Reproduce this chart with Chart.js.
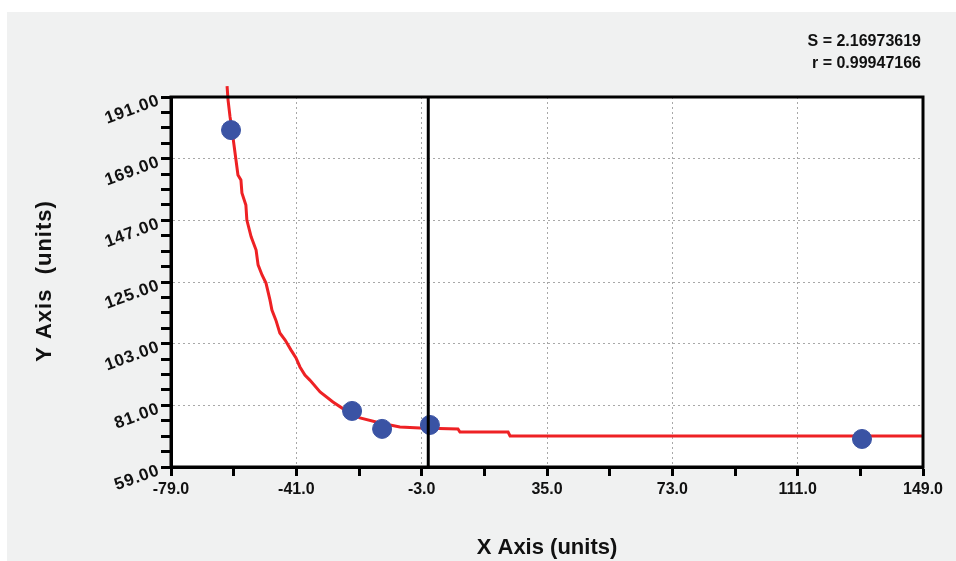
<!DOCTYPE html>
<html>
<head>
<meta charset="utf-8">
<script src="https://cdn.jsdelivr.net/npm/chart.js@4.4.1/dist/chart.umd.min.js"></script>
<style>
  html, body { margin: 0; padding: 0; background: #fff; }
  #wrap { width: 956px; height: 561px; }
</style>
</head>
<body>
<div id="wrap"><canvas id="myChart" width="956" height="561"></canvas></div>
<script>
// measured points
const pointX = [-60.8, -24.1, -15.0, -0.5, 130.5];
const pointY = [179.2, 79.0, 72.6, 74.0, 69.0];

// fitted curve
const curveX = [-62.0, -61.7, -61.1, -60.5, -59.9, -59.3, -58.7, -57.8, -57.5, -56.3, -56.0, -54.7, -53.2,
  -52.6, -51.4, -50.2, -49.0, -48.4, -47.2, -46.0, -44.4, -42.6, -41.1, -39.9, -38.4, -36.9, -33.8, -29.9,
  -26.2, -21.7, -15.6, -9.6, -3.5, 8.0, 8.6, 23.2, 23.8, 149.0];
const curveY = [194.9, 189.9, 183.9, 179.2, 173.9, 168.5, 163.2, 161.4, 156.8, 152.5, 147.1, 141.1, 136.4,
  131.1, 127.5, 124.6, 118.6, 115.0, 111.4, 106.8, 104.3, 100.7, 97.9, 94.7, 91.8, 90.0, 85.8, 82.2,
  79.3, 76.5, 74.7, 73.3, 72.9, 72.6, 71.5, 71.5, 70.1, 70.1];

const xMin = -79, xMax = 149, xStep = 19, xMajor = 38;
const yMin = 59, yMax = 191, yStep = 5.5, yMajor = 22;
const zeroLine = -1;
const statLines = ["S = 2.16973619", "r = 0.99947166"];

const isMajorX = v => Math.abs(((v - xMin) / xMajor) - Math.round((v - xMin) / xMajor)) < 1e-6;
const isMajorY = v => Math.abs(((v - yMin) / yMajor) - Math.round((v - yMin) / yMajor)) < 1e-6;

const FONT = "'Liberation Sans', Arial, sans-serif";

const decor = {
  id: "decor",
  beforeDraw(chart) {
    const c = chart.ctx, a = chart.chartArea;
    c.save();
    c.fillStyle = "#f0f1f1";
    c.fillRect(7, 12, chart.width - 7, chart.height - 12);
    c.fillStyle = "#ffffff";
    c.fillRect(a.left, a.top, a.right - a.left, a.bottom - a.top);
    c.restore();
  },
  afterDatasetsDraw(chart) {
    const c = chart.ctx, a = chart.chartArea;
    const xs = chart.scales.x;
    c.save();
    // vertical reference line
    const zx = xs.getPixelForValue(zeroLine);
    c.strokeStyle = "#000";
    c.lineWidth = 3;
    c.beginPath();
    c.moveTo(zx, a.top);
    c.lineTo(zx, a.bottom);
    c.stroke();
    c.restore();
  },
  afterDraw(chart) {
    const c = chart.ctx, a = chart.chartArea;
    const ys = chart.scales.y;
    c.save();
    c.strokeStyle = "#000";
    c.lineWidth = 3;
    c.strokeRect(a.left, a.top, a.right - a.left, a.bottom - a.top);

    // y tick labels, tilted
    c.fillStyle = "#111";
    c.font = "bold 17px " + FONT;
    c.letterSpacing = "0.8px";
    c.textAlign = "right";
    c.textBaseline = "middle";
    ys.ticks.forEach(t => {
      if (!isMajorY(t.value)) return;
      const py = ys.getPixelForValue(t.value);
      c.save();
      c.translate(a.left - 12, py + 3);
      c.rotate(-20 * Math.PI / 180);
      c.fillText(t.value.toFixed(2), 0, 0);
      c.restore();
    });

    // y title
    c.save();
    c.font = "bold 22px " + FONT;
    c.letterSpacing = "1px";
    c.textAlign = "center";
    c.textBaseline = "middle";
    c.translate(45, 281);
    c.rotate(-Math.PI / 2);
    c.fillText("Y Axis  (units)", 0, 0);
    c.restore();

    // stats
    c.letterSpacing = "0px";
    c.font = "bold 16px " + FONT;
    c.textAlign = "right";
    c.textBaseline = "middle";
    statLines.forEach((s, i) => c.fillText(s, 921, 42 + i * 22));
    c.restore();
  }
};

new Chart(document.getElementById("myChart").getContext("2d"), {
  type: "scatter",
  data: {
    datasets: [
      {
        type: "line",
        data: curveX.map((x, i) => ({ x: x, y: curveY[i] })),
        borderColor: "#ee2124",
        borderWidth: 3,
        pointRadius: 0,
        tension: 0,
        fill: false,
        clip: false,
        order: 2
      },
      {
        data: pointX.map((x, i) => ({ x: x, y: pointY[i] })),
        backgroundColor: "#3a53a4",
        borderColor: "#3a53a4",
        pointRadius: 9.5,
        order: 1
      }
    ]
  },
  options: {
    responsive: false,
    animation: false,
    layout: { padding: { left: 0, top: 97, right: 33, bottom: 0 } },
    plugins: { legend: { display: false }, tooltip: { enabled: false } },
    scales: {
      x: {
        type: "linear",
        min: xMin,
        max: xMax,
        afterFit: s => { s.height = 94; },
        ticks: {
          stepSize: xStep,
          autoSkip: false,
          maxRotation: 0,
          padding: 4,
          color: "#111",
          font: { family: FONT, size: 16, weight: "bold" },
          callback: v => isMajorX(v) ? v.toFixed(1) : ""
        },
        grid: {
          color: ctx => (ctx.tick && isMajorX(ctx.tick.value) && ctx.tick.value !== xMin && ctx.tick.value !== xMax) ? "#a8a8a8" : "rgba(0,0,0,0)",
          lineWidth: 1,
          tickColor: "#000",
          tickWidth: 3,
          tickLength: 9,
          tickBorderDash: []
        },
        border: { display: true, color: "#000", width: 3, dash: [2, 3] },
        title: {
          display: true,
          text: "X Axis (units)",
          color: "#111",
          font: { family: FONT, size: 22, weight: "bold" },
          padding: { top: 0, bottom: 0 }
        }
      },
      y: {
        type: "linear",
        min: yMin,
        max: yMax,
        afterFit: s => { s.width = 171; },
        ticks: {
          stepSize: yStep,
          autoSkip: false,
          display: false
        },
        grid: {
          color: ctx => (ctx.tick && isMajorY(ctx.tick.value) && ctx.tick.value !== yMin && ctx.tick.value !== yMax) ? "#a8a8a8" : "rgba(0,0,0,0)",
          lineWidth: 1,
          tickColor: "#000",
          tickWidth: 3,
          tickLength: 10,
          tickBorderDash: []
        },
        border: { display: true, color: "#000", width: 3, dash: [2, 3] }
      }
    }
  },
  plugins: [decor]
});
</script>
</body>
</html>
